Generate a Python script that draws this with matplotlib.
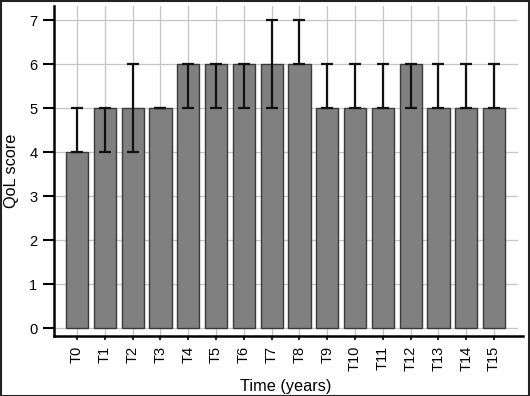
import matplotlib
matplotlib.use("Agg")
import matplotlib.pyplot as plt
from matplotlib.patches import Rectangle
import numpy as np

plt.rcParams['font.family'] = ['Liberation Sans', 'DejaVu Sans']

categories = ["T0", "T1", "T2", "T3", "T4", "T5", "T6", "T7", "T8", "T9",
              "T10", "T11", "T12", "T13", "T14", "T15"]
values = [4, 5, 5, 5, 6, 6, 6, 6, 6, 5, 5, 5, 6, 5, 5, 5]
err_low = [4, 4, 4, 5, 5, 5, 5, 5, 6, 5, 5, 5, 5, 5, 5, 5]
err_high = [5, 5, 6, 5, 6, 6, 6, 7, 7, 6, 6, 6, 6, 6, 6, 6]

fig = plt.figure(figsize=(5.30, 3.96), dpi=100)
ax = fig.add_axes([54/530, 60/396, (518-54)/530, (390-60)/396])

x = np.arange(len(categories))
vals = np.array(values)
lo = vals - np.array(err_low)
hi = np.array(err_high) - vals

ax.bar(x, vals, width=0.8, color="#808080", edgecolor="#3a3a3a", linewidth=1.0, zorder=2)
ax.errorbar(x, vals, yerr=[lo, hi], fmt="none", ecolor="#111111", elinewidth=1.6,
            capsize=4.5, capthick=1.6, zorder=3)

ax.set_xlim(-0.83, 15.86)
ax.set_ylim(-0.18, 7.32)
ax.set_yticks(range(0, 8))
ax.set_xticks(x)
ax.set_xticklabels(categories, rotation=90)

ax.grid(True, color="#c4c4c4", linewidth=0.9, zorder=0)
ax.set_axisbelow(True)

for s in ["top", "right"]:
    ax.spines[s].set_visible(False)
ax.spines["left"].set_linewidth(1.8)
ax.spines["bottom"].set_linewidth(1.8)
ax.spines["bottom"].set_bounds(-0.83, 16.04)

ax.tick_params(axis="y", length=8, width=1.5, labelsize=10.5, pad=4)
ax.tick_params(axis="x", length=3, width=1.2, labelsize=10.5, pad=4)

ax.set_ylabel("QoL score", fontsize=11.7, labelpad=7)
ax.set_xlabel("Time (years)", fontsize=11.7, labelpad=6)

fig.patches.append(Rectangle((0.001, 0.001), 0.997, 0.996, transform=fig.transFigure,
                             fill=False, edgecolor="#222222", linewidth=1.5))

fig.savefig("out.png", dpi=100)
